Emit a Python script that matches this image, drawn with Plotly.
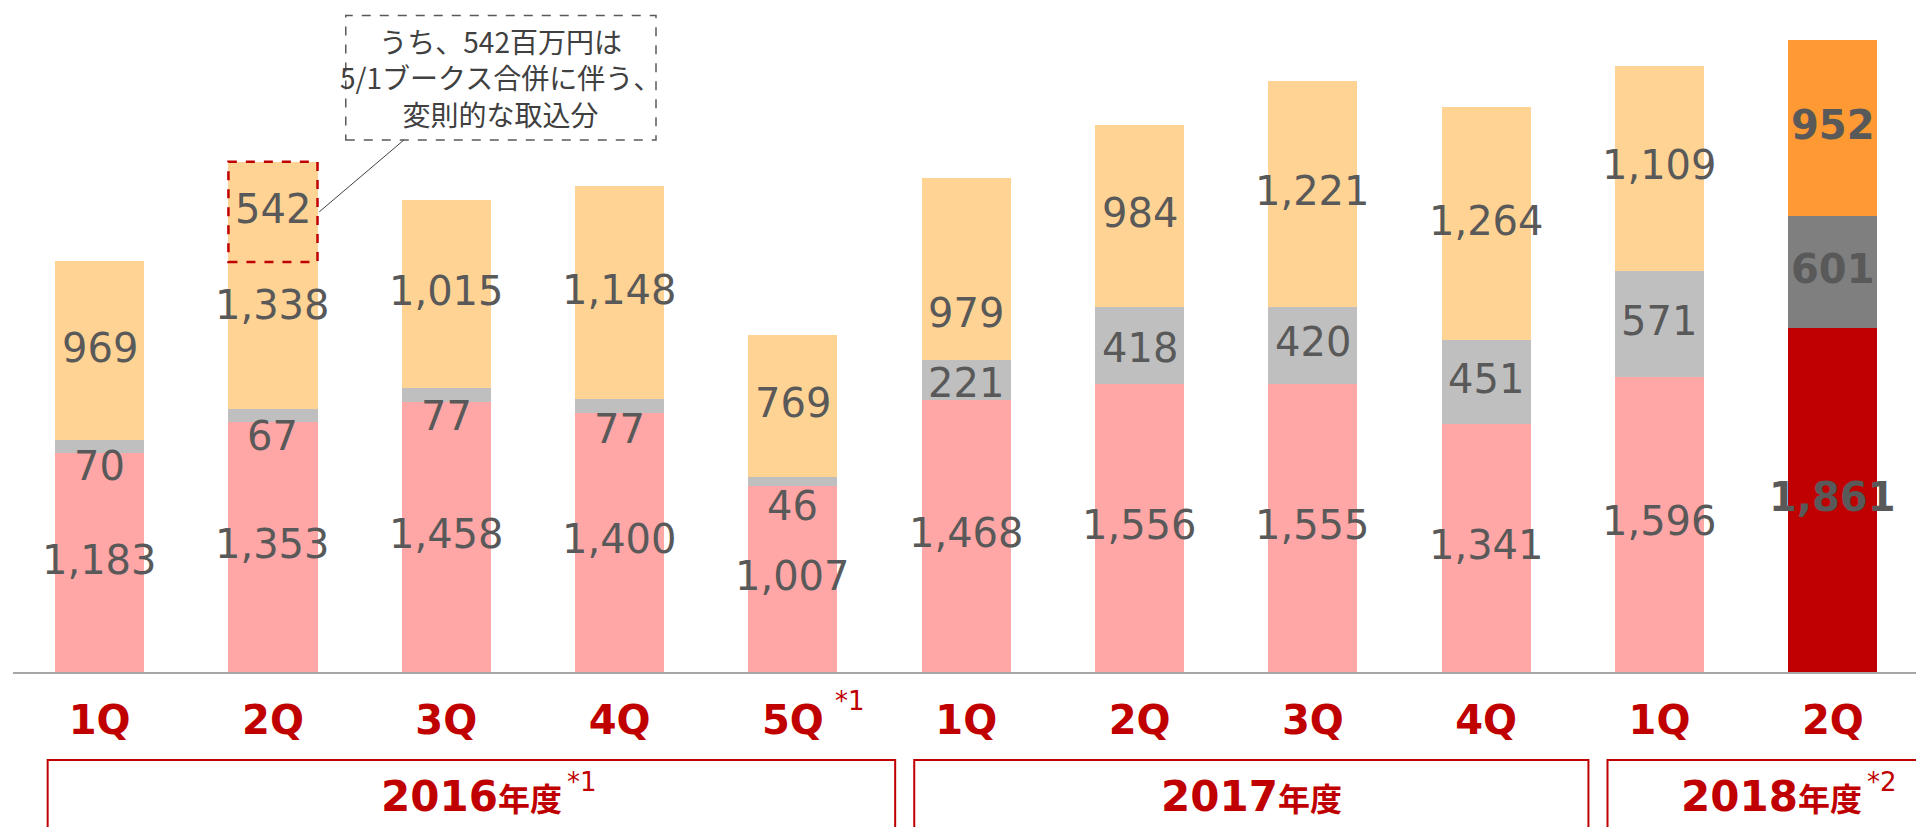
import plotly.graph_objects as go

# ---------------- data ----------------
quarters = ["1Q", "2Q", "3Q", "4Q", "5Q", "1Q", "2Q", "3Q", "4Q", "1Q", "2Q"]
fiscal_years = ["2016年度", "2017年度", "2018年度"]
year_groups = [[0, 1, 2, 3, 4], [5, 6, 7, 8], [9, 10]]
year_notes = ["*1", "", "*2"]
quarter_notes = ["", "", "", "", "*1", "", "", "", "", "", ""]

seg_bottom = [1183, 1353, 1458, 1400, 1007, 1468, 1556, 1555, 1341, 1596, 1861]
seg_middle = [70, 67, 77, 77, 46, 221, 418, 420, 451, 571, 601]
seg_top = [969, 1338, 1015, 1148, 769, 979, 984, 1221, 1264, 1109, 952]

merger_index = 1      # 2016年度 2Q
merger_part = 542     # part of the top segment of that bar
callout_lines = ["うち、542百万円は", "5/1ブークス合併に伴う、", "変則的な取込分"]

# ---------------- style ----------------
n = len(quarters)
hl = n - 1  # highlighted latest quarter
col_bottom = ["#FFA6A6"] * n
col_middle = ["#BFBFBF"] * n
col_top = ["#FFD393"] * n
col_bottom[hl] = "#C00000"
col_middle[hl] = "#7F7F7F"
col_top[hl] = "#FF9933"
RED = "#C00000"
LABEL = "#595959"
BARGAP = 0.486
BW = 1 - BARGAP

x = list(range(n))
fig = go.Figure()
for vals, cols in [(seg_bottom, col_bottom), (seg_middle, col_middle), (seg_top, col_top)]:
    fig.add_trace(go.Bar(x=x, y=vals, marker=dict(color=cols, line=dict(width=0)),
                         hoverinfo="skip", showlegend=False))

# ---------------- data labels ----------------
label_shift = {(0, 1): -22, (1, 1): -24, (2, 1): -24, (3, 1): -26, (4, 1): -28,
               (1, 2): -23, (5, 2): -47, (5, 1): -6, (6, 1): -6}
for i in range(n):
    base = 0
    for s, vals in enumerate([seg_bottom, seg_middle, seg_top]):
        v = vals[i]
        yc = base + v / 2
        bold = (i == hl)
        fig.add_annotation(x=i, y=yc, text=f"{v:,}", showarrow=False,
                           yshift=label_shift.get((i, s), 0) + 3,
                           font=dict(family="DejaVu Sans", size=40,
                                     color=LABEL, weight="bold" if bold else "normal"))
        base += v

# highlighted merger part
tot_m = seg_bottom[merger_index] + seg_middle[merger_index] + seg_top[merger_index]
fig.add_shape(type="rect", xref="x", yref="y",
              x0=merger_index - BW / 2, x1=merger_index + BW / 2,
              y0=tot_m - merger_part, y1=tot_m,
              line=dict(color=RED, width=2.5, dash="dash"), fillcolor="rgba(0,0,0,0)")
fig.add_annotation(x=merger_index, y=tot_m - merger_part / 2, text=f"{merger_part:,}",
                   showarrow=False, yshift=3,
                   font=dict(family="DejaVu Sans", size=40, color=LABEL))

# callout
cx0, cx1, cy0, cy1 = 1.42, 3.21, 2875, 3548
fig.add_shape(type="rect", xref="x", yref="y", x0=cx0, x1=cx1, y0=cy0, y1=cy1,
              line=dict(color="#595959", width=1.5, dash="dash"), fillcolor="rgba(0,0,0,0)")
fig.add_annotation(x=(cx0 + cx1) / 2, y=(cy0 + cy1) / 2, text="<br>".join(callout_lines),
                   showarrow=False, align="center",
                   font=dict(family="Noto Sans CJK JP", size=28, color="#404040"))
fig.add_shape(type="line", xref="x", yref="y",
              x0=merger_index + BW / 2 + 0.01, y0=tot_m - merger_part / 2,
              x1=1.755, y1=cy0,
              line=dict(color="#404040", width=1))

# quarter notes
for i, t in enumerate(quarter_notes):
    if t:
        fig.add_annotation(x=i, y=-0.043, yref="paper", yanchor="middle", text=t,
                           showarrow=False, xanchor="left", xshift=40,
                           font=dict(family="DejaVu Sans", size=26, color=RED))

# fiscal-year boxes
for name, grp, note in zip(fiscal_years, year_groups, year_notes):
    x0 = grp[0] - 0.3
    x1 = grp[-1] + 0.59
    fig.add_shape(type="rect", xref="x", yref="paper", x0=x0, x1=x1, y0=-0.131, y1=-0.35,
                  line=dict(color=RED, width=2), fillcolor="rgba(0,0,0,0)")
    yr, suffix = name[:4], name[4:]
    fig.add_annotation(x=(x0 + x1) / 2, y=-0.186, yref="paper", yanchor="middle",
                       showarrow=False,
                       text=f"<b>{yr}<span style='font-size:32px'>{suffix}</span></b>",
                       font=dict(family="DejaVu Sans, Noto Sans CJK JP", size=42, color=RED))
    if note:
        fig.add_annotation(x=(x0 + x1) / 2, y=-0.164, yref="paper", yanchor="middle",
                           showarrow=False, xanchor="left", xshift=94, text=note,
                           font=dict(family="DejaVu Sans", size=26, color=RED))

fig.update_layout(
    width=1916, height=827,
    margin=dict(l=13, r=0, t=0, b=155),
    barmode="stack", bargap=BARGAP,
    plot_bgcolor="white", paper_bgcolor="white",
    xaxis=dict(range=[-0.5, 10.48], tickvals=x, ticktext=quarters,
               showline=True, linecolor="#A6A6A6", linewidth=1.5,
               ticks="outside", ticklen=12, tickcolor="rgba(0,0,0,0)",
               tickfont=dict(family="DejaVu Sans", size=40, color=RED, weight="bold"),
               showgrid=False, zeroline=False, fixedrange=True),
    yaxis=dict(range=[0, 3632], visible=False, showgrid=False, zeroline=False),
)

fig.write_html("out.html", config={"displayModeBar": False},
               post_script="document.body.style.margin='0';document.body.style.overflow='hidden';")
